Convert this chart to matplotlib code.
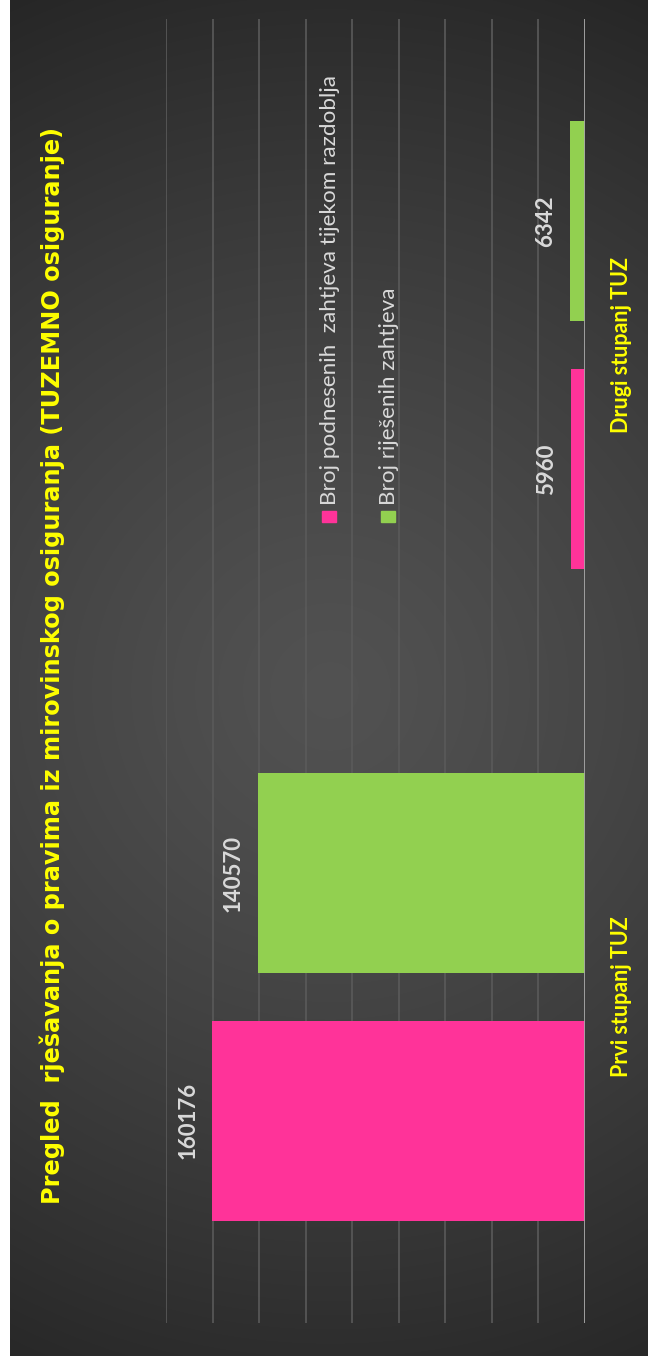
import numpy as np
import matplotlib.pyplot as plt
from matplotlib.patches import Rectangle

# ── Data ─────────────────────────────────────────────────────────────
categories = ["Prvi stupanj TUZ", "Drugi stupanj TUZ"]
series_names = ["Broj podnesenih  zahtjeva tijekom razdoblja", "Broj riješenih zahtjeva"]
submitted = [160176, 5960]
resolved = [140570, 6342]
title = "Pregled  rješavanja o pravima iz mirovinskog osiguranja (TUZEMNO osiguranje)"

PINK = "#ff3399"
GREEN = "#92d050"
YELLOW = "#ffff00"
LABEL = "#d9d9d9"

W, H = 648, 1365
fig = plt.figure(figsize=(W / 100, H / 100), dpi=100, facecolor="white")

# ── Background (radial gradient, dark) ───────────────────────────────
bg = fig.add_axes([10 / W, 9 / H, 638 / W, 1356 / H])
yy, xx = np.mgrid[0:1356, 0:638]
r = np.hypot(xx - 320, yy - 690) / 760.0
r = np.clip(r, 0, 1)
shade = 0.32 - 0.17 * r ** 1.3
bg.imshow(np.dstack([shade] * 3), aspect="auto", extent=[0, 1, 0, 1])
bg.set_axis_off()

# ── Main chart (rotated column chart -> horizontal bars) ─────────────
ax = fig.add_axes([166 / W, 1 - 1323 / H, (585 - 166) / W, 1304 / H])
ax.set_facecolor("none")
ypos = np.arange(len(categories))
bh = 0.307
off = 0.19
b1 = ax.barh(ypos - off, submitted, height=bh, color=PINK, zorder=3)
b2 = ax.barh(ypos + off, resolved, height=bh, color=GREEN, zorder=3)

ax.set_xlim(180000, 0)
ax.set_ylim(-0.5, 1.5)
ax.set_xticks(range(0, 180001, 20000))
ax.xaxis.grid(True, color="#5a5a5a", lw=1.2, zorder=0)
ax.tick_params(axis="x", length=0, labelbottom=False)
ax.axvline(0, color="#a6a6a6", lw=2, zorder=4)
for s in ax.spines.values():
    s.set_visible(False)

# category labels on the right, rotated
ax.yaxis.tick_right()
ax.set_yticks(ypos)
ax.set_yticklabels(categories, rotation=90, va="center", color=YELLOW,
                   fontsize=15.5, fontweight="bold", family="Lato")
ax.tick_params(axis="y", length=0, pad=19)

# value labels
for bars, vals in [(b1, submitted), (b2, resolved)]:
    for bar, v in zip(bars, vals):
        ax.annotate(str(v), (v, bar.get_y() + bar.get_height() / 2),
                    xytext=(-10, 0), textcoords="offset points",
                    rotation=90, ha="right", va="center", color=LABEL,
                    fontsize=16, fontweight="bold", family="Lato")

# ── Title ────────────────────────────────────────────────────────────
fig.text(52 / W, 1 - 665 / H, title, rotation=90, ha="center", va="center",
         color=YELLOW, fontsize=17.3, fontweight="bold", family="DejaVu Sans")

# ── Legend (rotated, drawn by hand) ──────────────────────────────────
for x0, name, col in [(322, series_names[0], PINK), (381, series_names[1], GREEN)]:
    fig.patches.append(Rectangle((x0 / W, 1 - 522 / H), 14 / W, 11 / H,
                                 transform=fig.transFigure, color=col))
    fig.text((x0 + 8) / W, 1 - 505 / H, name, rotation=90, ha="center",
             va="bottom", color=LABEL, fontsize=16.2, family="Lato")

plt.savefig("out.png", dpi=100)
